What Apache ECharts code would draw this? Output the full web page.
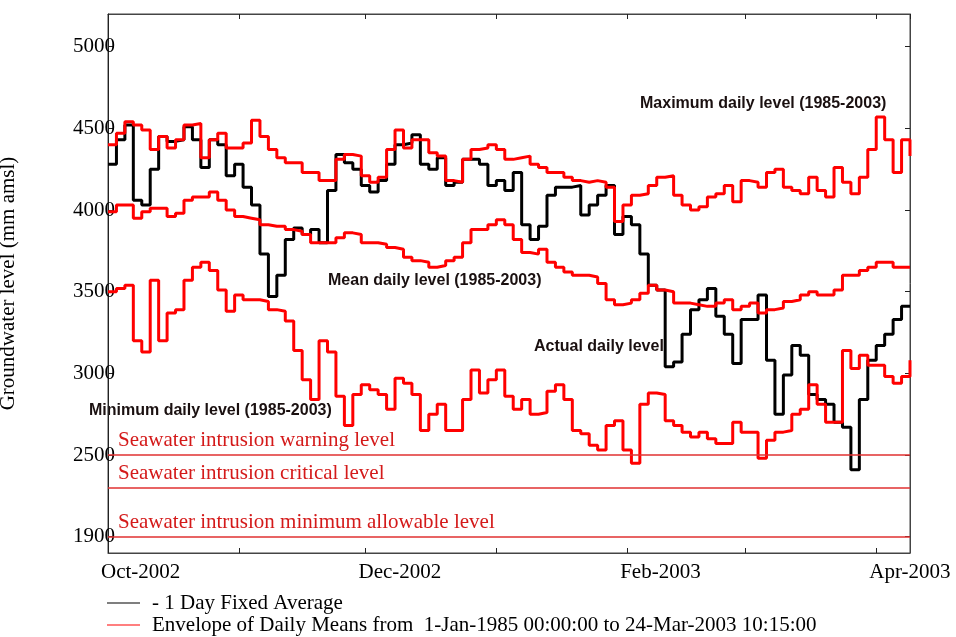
<!DOCTYPE html>
<html>
<head>
<meta charset="utf-8">
<script src="https://cdn.jsdelivr.net/npm/echarts@6/dist/echarts.min.js"></script>
<style>
    html, body { margin: 0; padding: 0; background: #fff; }
    #chart { width: 956px; height: 637px; }
</style>
</head>
<body>
<div id="chart"></div>
<script>
"use strict";

// one value every 2 days from 1-Oct-2002
var startDate = new Date(2002, 9, 1);
var endDate = new Date(2003, 3, 9);
var stepDays = 2;

var actualLevel = [
    4280, 4430, 4520, 4060, 4030, 4250, 4450, 4420, 4430, 4510, 4430, 4260, 4430, 4400, 4210, 4280, 4140, 4030, 3730, 3470,
    3600, 3820, 3890, 3850, 3880, 3800, 4120, 4340, 4290, 4250, 4150, 4110, 4180, 4280, 4400, 4410, 4460, 4280, 4250, 4320,
    4150, 4170, 4310, 4310, 4280, 4150, 4180, 4120, 4230, 3910, 3820, 3900, 4090, 4140, 4140, 4150, 3970, 4030, 4090, 4150,
    3850, 3960, 3910, 3730, 3540, 3510, 3040, 3070, 3240, 3390, 3450, 3520, 3350, 3240, 3060, 3330, 3330, 3480, 3080, 2750,
    2990, 3170, 3110, 2870, 2840, 2810, 2700, 2670, 2410, 2840, 3080, 3170, 3240, 3330, 3410, 3410
];
var maxLevel = [
    4400, 4470, 4540, 4520, 4490, 4370, 4450, 4380, 4430, 4520, 4530, 4320, 4430, 4470, 4380, 4380, 4410, 4550, 4450, 4370,
    4320, 4290, 4290, 4230, 4230, 4180, 4180, 4310, 4340, 4330, 4210, 4170, 4200, 4370, 4490, 4380, 4430, 4430, 4350, 4330,
    4180, 4170, 4310, 4370, 4380, 4400, 4370, 4310, 4320, 4330, 4280, 4260, 4230, 4230, 4200, 4180, 4170, 4180, 4170, 4140,
    3930, 4030, 4090, 4100, 4150, 4200, 4210, 4090, 4030, 4000, 4020, 4080, 4100, 4150, 4050, 4180, 4170, 4140, 4230, 4250,
    4140, 4120, 4100, 4200, 4120, 4080, 4260, 4170, 4100, 4200, 4370, 4570, 4430, 4230, 4430, 4330
];
var meanLevel = [
    3990, 4030, 4030, 3950, 3990, 4010, 4010, 3960, 3980, 4060, 4080, 4080, 4110, 4060, 4000, 3960, 3950, 3940, 3910, 3900,
    3900, 3880, 3870, 3850, 3800, 3800, 3800, 3830, 3860, 3850, 3800, 3800, 3790, 3770, 3760, 3710, 3690, 3680, 3650, 3660,
    3690, 3710, 3800, 3880, 3880, 3910, 3940, 3910, 3820, 3740, 3730, 3760, 3680, 3650, 3620, 3600, 3600, 3590, 3550, 3450,
    3420, 3430, 3450, 3490, 3540, 3510, 3500, 3430, 3430, 3420, 3410, 3410, 3430, 3450, 3390, 3410, 3430, 3370, 3390, 3400,
    3440, 3450, 3480, 3500, 3480, 3480, 3510, 3600, 3600, 3630, 3650, 3680, 3680, 3650, 3650, 3650
];
var minLevel = [
    3500, 3520, 3540, 3200, 3130, 3570, 3200, 3370, 3390, 3570, 3650, 3680, 3630, 3510, 3380, 3480, 3450, 3450, 3440, 3390,
    3380, 3320, 3140, 2960, 2840, 3200, 3130, 2860, 2680, 2870, 2930, 2900, 2870, 2780, 2970, 2940, 2870, 2650, 2750, 2810,
    2650, 2650, 2840, 3020, 2880, 2960, 3020, 2860, 2780, 2840, 2750, 2760, 2890, 2930, 2840, 2650, 2630, 2560, 2530, 2680,
    2710, 2530, 2450, 2810, 2880, 2870, 2710, 2680, 2640, 2610, 2640, 2600, 2570, 2570, 2700, 2640, 2640, 2480, 2590, 2640,
    2650, 2750, 2780, 2930, 2810, 2700, 2700, 3140, 3030, 3110, 3050, 3050, 2980, 2940, 2980, 3080
];

var seawaterNames = [
    "Seawater intrusion warning level",
    "Seawater intrusion critical level",
    "Seawater intrusion minimum allowable level"
];
var seawaterLevels = [2500, 2300, 2000];

var yTickValues = [2000, 2500, 3000, 3500, 4000, 4500, 5000];
var yTickLabels = ["1900", "2500", "3000", "3500", "4000", "4500", "5000"];
var xTickLabels = ["Oct-2002", "Dec-2002", "Feb-2003", "Apr-2003"];
var monthNames = ["Jan", "Feb", "Mar", "Apr", "May", "Jun", "Jul", "Aug", "Sep", "Oct", "Nov", "Dec"];

var actualName = "- 1 Day Fixed Average";
var envelopeName = "Envelope of Daily Means from  1-Jan-1985 00:00:00 to 24-Mar-2003 10:15:00";

(function (echarts) {
    var chart = echarts.init(document.querySelector("#chart"));
    var serif = "'Liberation Serif', 'Times New Roman', serif";
    var sans = "'Liberation Sans', Arial, sans-serif";
    var dayMs = 86400000;
    var seawaterColor = "#e03030";

    function toPoints(values) {
        return values.map((v, i) => [startDate.getTime() + i * stepDays * dayMs, v]);
    }

    function xLabel(value) {
        var d = new Date(value);
        if (d.getDate() !== 1) return "";
        var text = monthNames[d.getMonth()] + "-" + d.getFullYear();
        return xTickLabels.indexOf(text) >= 0 ? text : "";
    }

    function levelLine(name, values, color) {
        return {
            name: name,
            type: "line",
            step: "end",
            showSymbol: false,
            symbol: "none",
            data: toPoints(values),
            lineStyle: { color: color, width: 3 },
            itemStyle: { color: color },
            emphasis: { disabled: true }
        };
    }

    // thresholds drawn as mark lines on a series of their own
    var seawaterSeries = {
        name: "Seawater levels",
        type: "line",
        data: [],
        markLine: {
            silent: true,
            symbol: "none",
            precision: 0,
            emphasis: { disabled: true },
            lineStyle: { color: seawaterColor, width: 1.5, type: "solid", opacity: 1 },
            label: {
                position: "insideStartTop",
                formatter: "{b}",
                color: "#d41a1a",
                fontFamily: serif,
                fontSize: 21,
                distance: [10, 4]
            },
            data: seawaterLevels.map((v, i) => ({ name: seawaterNames[i], yAxis: v }))
        }
    };

    var annotations = [
        { text: "Maximum daily level (1985-2003)", x: 640, y: 104 },
        { text: "Mean daily level (1985-2003)", x: 328, y: 281 },
        { text: "Actual daily level", x: 534, y: 347 },
        { text: "Minimum daily level (1985-2003)", x: 89, y: 411 }
    ];

    var option = {
        animation: false,
        backgroundColor: "#fff",
        grid: {
            left: 108, right: 46, top: 14, bottom: 84,
            outerBoundsMode: "none",
            containLabel: false,
            show: true, borderColor: "#444", borderWidth: 1
        },
        legend: {
            orient: "vertical",
            left: 107,
            top: 592,
            padding: 0,
            itemWidth: 33,
            itemHeight: 1,
            itemGap: 0,
            icon: "rect",
            data: [actualName, envelopeName],
            textStyle: {
                fontFamily: serif, fontSize: 21, color: "#000",
                lineHeight: 22, padding: [0, 0, 0, 7]
            }
        },
        xAxis: [
            {
                type: "time",
                min: startDate.getTime(),
                max: endDate.getTime(),
                minInterval: 28 * dayMs,
                maxInterval: 31 * dayMs,
                axisLine: { lineStyle: { color: "#444", width: 1 } },
                axisTick: { inside: true, length: 5, lineStyle: { color: "#222" } },
                splitLine: { show: false },
                axisLabel: {
                    formatter: xLabel,
                    align: "left",
                    padding: [0, 0, 0, -7],
                    margin: 9,
                    fontFamily: serif,
                    fontSize: 21,
                    color: "#000",
                    showMinLabel: true,
                    showMaxLabel: false
                }
            },
            {
                type: "time",
                position: "top",
                min: startDate.getTime(),
                max: endDate.getTime(),
                minInterval: 28 * dayMs,
                maxInterval: 31 * dayMs,
                axisLine: { lineStyle: { color: "#444" } },
                axisTick: { inside: true, length: 5, lineStyle: { color: "#222" } },
                axisLabel: { show: false },
                splitLine: { show: false }
            }
        ],
        yAxis: [
            {
                type: "value",
                min: 1900,
                max: 5200,
                name: "Groundwater level (mm amsl)",
                nameLocation: "middle",
                nameGap: 89,
                nameTextStyle: { fontFamily: serif, fontSize: 21, color: "#000" },
                axisLine: { show: true, lineStyle: { color: "#222", width: 1 } },
                axisTick: {
                    show: true, inside: true, length: 5,
                    customValues: yTickValues,
                    lineStyle: { color: "#222" }
                },
                splitLine: { show: false },
                axisLabel: {
                    customValues: yTickValues,
                    formatter: v => yTickLabels[yTickValues.indexOf(v)],
                    margin: -7,
                    fontFamily: serif,
                    fontSize: 21,
                    color: "#000"
                }
            },
            {
                type: "value",
                position: "right",
                min: 1900,
                max: 5200,
                axisLine: { show: true, lineStyle: { color: "#444" } },
                axisTick: {
                    show: true, inside: true, length: 5,
                    customValues: yTickValues,
                    lineStyle: { color: "#222" }
                },
                axisLabel: { show: false },
                splitLine: { show: false }
            }
        ],
        series: [
            seawaterSeries,
            levelLine(actualName, actualLevel, "#000000"),
            levelLine(envelopeName, maxLevel, "#ff0000"),
            levelLine("Mean daily level", meanLevel, "#ff0000"),
            levelLine("Minimum daily level", minLevel, "#ff0000")
        ],
        graphic: annotations.map(a => ({
            type: "text",
            x: a.x,
            y: a.y,
            silent: true,
            style: {
                text: a.text,
                fill: "#1a1010",
                font: "bold 16px " + sans,
                verticalAlign: "middle"
            }
        }))
    };

    chart.setOption(option);
}(echarts));
</script>
</body>
</html>
